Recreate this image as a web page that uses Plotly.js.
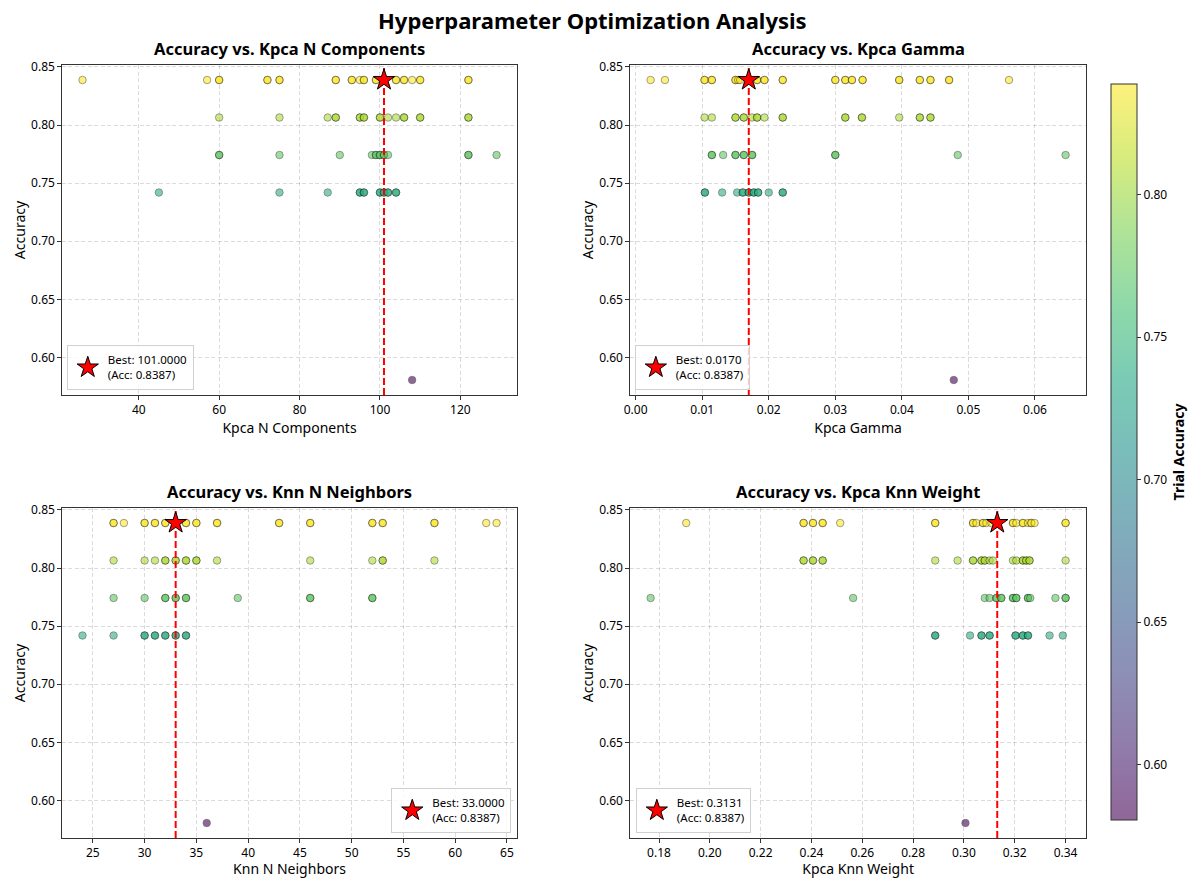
<!DOCTYPE html>
<html><head><meta charset="utf-8">
<script src="https://cdn.plot.ly/plotly-3.0.1.min.js"></script>
<style>html,body{margin:0;padding:0;background:#fff}#chart{width:1189px;height:878px}</style>
</head><body><div id="chart"></div>
<script>
// Accuracy levels (rows of points), top to bottom
const accuracyLevels = [26/31, 25/31, 24/31, 23/31, 18/31];

// x values of the trials at each accuracy level (duplicates = overlapping trials)
const kpcaNComponents = [
  [26,57,60,60,72,72,75,75,89,89,93,93,95,96,96,99,99,101,104,104,106,106,108,110,110,122,122],
  [60,75,87,89,89,95,95,96,96,100,100,102,104,106,106,110,110,122,122],
  [60,60,75,90,98,99,99,100,100,101,101,102,122,122,129],
  [45,75,87,95,95,96,96,100,100,101,101,102,102,104,104],
  [108]
];
const kpcaGamma = [
  [0.00225,0.0044,0.01035,0.01035,0.01145,0.01145,0.0150,0.0150,0.0154,0.0157,0.0170,0.01825,0.01825,0.01935,0.01935,0.0221,0.0221,0.0300,0.0300,0.0315,0.0315,0.0325,0.0325,0.0341,0.0341,0.0396,0.0396,0.0427,0.0427,0.0443,0.0443,0.0471,0.0471,0.0561],
  [0.01035,0.01145,0.0150,0.0150,0.01625,0.01625,0.0175,0.01825,0.01825,0.01935,0.0221,0.0221,0.0315,0.0315,0.0340,0.0340,0.0396,0.0427,0.0427,0.0443,0.0443],
  [0.01145,0.01145,0.01315,0.0150,0.0150,0.01625,0.01625,0.0175,0.0175,0.0300,0.0300,0.0484,0.0646],
  [0.0104,0.0104,0.0130,0.01525,0.0161,0.0161,0.0170,0.0170,0.01775,0.01775,0.0184,0.0184,0.0200,0.0221,0.0221],
  [0.0478]
];
const knnNNeighbors = [
  [27,27,28,30,30,31,31,32,32,33,34,34,35,35,37,37,43,43,46,46,52,52,53,53,58,58,63,64],
  [27,30,31,32,32,33,33,34,34,35,35,37,46,52,53,53,58],
  [27,30,32,32,33,33,34,34,39,46,46,52,52],
  [24,27,30,30,31,31,32,32,33,33,34,34],
  [36]
];
const kpcaKnnWeight = [
  [0.1907,0.2369,0.2369,0.2406,0.2406,0.2444,0.2444,0.2513,0.2887,0.2887,0.3036,0.3036,0.3049,0.3075,0.3075,0.3088,0.3108,0.3131,0.3193,0.3193,0.3206,0.3232,0.3232,0.3252,0.3265,0.3265,0.3278,0.3400,0.3400],
  [0.2369,0.2369,0.2406,0.2406,0.2444,0.2444,0.2887,0.2975,0.3036,0.3036,0.3069,0.3069,0.3082,0.3082,0.3101,0.3114,0.3193,0.3206,0.3232,0.3232,0.3245,0.3245,0.3258,0.3258,0.3400],
  [0.1767,0.2564,0.3082,0.3101,0.3128,0.3128,0.3147,0.3147,0.3193,0.3193,0.3206,0.3206,0.3252,0.3252,0.3261,0.3360,0.3400,0.3400],
  [0.2887,0.2887,0.3024,0.3069,0.3069,0.3101,0.3101,0.3203,0.3203,0.3232,0.3232,0.3252,0.3252,0.3337,0.3389],
  [0.3006]
];

const bestAccuracy = 26/31;
const bestValues = [101, 0.0170, 33, 0.3131];
const paramNames = ['Kpca N Components', 'Kpca Gamma', 'Knn N Neighbors', 'Kpca Knn Weight'];
const colorbarTicks = [0.60, 0.65, 0.70, 0.75, 0.80];

const viridis = [[0,'#440154'],[0.1,'#482475'],[0.2,'#414487'],[0.3,'#355f8d'],[0.4,'#2a788e'],
  [0.5,'#21918c'],[0.6,'#22a884'],[0.7,'#44bf70'],[0.8,'#7ad151'],[0.9,'#bddf26'],[1,'#fde725']];
function blend(hex, a){
  const r=parseInt(hex.slice(1,3),16), g=parseInt(hex.slice(3,5),16), b=parseInt(hex.slice(5,7),16);
  const f=v=>Math.round(v*a+255*(1-a));
  return 'rgb('+f(r)+','+f(g)+','+f(b)+')';
}
const viridisFaded = viridis.map(([t,c])=>[t, blend(c,0.6)]);

const W=1189, H=878;
const FONT = '"Noto Sans", "Open Sans", sans-serif';
const pxX = (a,b)=>[a/W, b/W];
const pxY = (top,bot)=>[1-bot/H, 1-top/H];
const panels = [
  {data:kpcaNComponents, dx:pxX(62,519), dy:pxY(65,395), dtick:20, fmt:'', legend:{x:67/W, y:1-390/H, xanchor:'left'}},
  {data:kpcaGamma, dx:pxX(632,1090), dy:pxY(65,395), dtick:0.01, fmt:'.2f', legend:{x:637/W, y:1-390/H, xanchor:'left'}},
  {data:knnNNeighbors, dx:pxX(62,519), dy:pxY(508,838), dtick:5, fmt:'', legend:{x:513/W, y:1-833/H, xanchor:'right'}},
  {data:kpcaKnnWeight, dx:pxX(632,1090), dy:pxY(508,838), dtick:0.02, fmt:'.2f', legend:{x:638/W, y:1-833/H, xanchor:'left'}}
];

const allAcc = [];
accuracyLevels.forEach((a,i)=>{ kpcaNComponents[i].forEach(()=>allAcc.push(a)); });
const cmin = Math.min(...allAcc), cmax = Math.max(...allAcc);
const ySpan = cmax - cmin;
const yRange = [cmin - 0.05*ySpan, cmax + 0.05*ySpan];

const traces = [];
const layout = {
  width:W, height:H, margin:{l:0,r:0,t:0,b:0}, paper_bgcolor:'#fff', plot_bgcolor:'#fff',
  font:{family:FONT, size:12, color:'#000'},
  annotations:[{text:'<b>Hyperparameter Optimization Analysis</b>', xref:'paper', yref:'paper', x:0.5, y:1-20/H,
    xanchor:'center', yanchor:'middle', showarrow:false, font:{size:22, family:FONT}}]
};

panels.forEach((p,i)=>{
  const n = i+1, xa = 'x'+(n===1?'':n), ya = 'y'+(n===1?'':n);
  const xs=[], ys=[];
  p.data.forEach((row,r)=>row.forEach(v=>{xs.push(v); ys.push(accuracyLevels[r]);}));
  const xmin=Math.min(...xs), xmax=Math.max(...xs), sp=xmax-xmin;
  const xRange=[xmin-0.05*sp, xmax+0.05*sp];
  traces.push({type:'scatter', mode:'markers', x:xs, y:ys, xaxis:xa, yaxis:ya, showlegend:false, hoverinfo:'x+y',
    marker:{color:ys, colorscale:viridis, cmin:cmin, cmax:cmax, size:7.5, opacity:0.6, line:{color:'#000', width:0.6}}});
  traces.push({type:'scatter', mode:'lines', x:[bestValues[i],bestValues[i]], y:yRange, xaxis:xa, yaxis:ya,
    showlegend:false, hoverinfo:'skip', line:{color:'#ff0000', width:2, dash:'7px,3px'}});
  const lg = 'legend'+(n===1?'':n);
  traces.push({type:'scatter', mode:'markers', x:[bestValues[i]], y:[bestAccuracy], xaxis:xa, yaxis:ya,
    name:'Best: '+bestValues[i].toFixed(4)+'<br>(Acc: '+bestAccuracy.toFixed(4)+')', legend:lg, showlegend:true,
    marker:{symbol:'star', size:16, color:'#ff0000', line:{color:'#000', width:1}}});
  layout[lg] = {x:p.legend.x, y:p.legend.y, xanchor:p.legend.xanchor, yanchor:'bottom', xref:'paper', yref:'paper',
    bgcolor:'rgba(255,255,255,0.8)', bordercolor:'#d0d0d0', borderwidth:1, font:{size:11.5, family:FONT}, itemsizing:'trace'};
  const axCommon = {showline:true, mirror:true, linecolor:'#333', linewidth:1, ticks:'outside', ticklen:3.5, tickcolor:'#333',
    showgrid:true, gridcolor:'rgba(0,0,0,0.14)', griddash:'4px,2.5px', gridwidth:1, zeroline:false, tickfont:{size:12}};
  layout['xaxis'+(n===1?'':n)] = Object.assign({}, axCommon, {domain:p.dx, range:xRange, dtick:p.dtick, tickformat:p.fmt,
    anchor:ya, title:{text:paramNames[i], font:{size:14}, standoff:2}});
  layout['yaxis'+(n===1?'':n)] = Object.assign({}, axCommon, {domain:p.dy, range:yRange, dtick:0.05, tick0:0, tickformat:'.2f',
    anchor:xa, title:{text:'Accuracy', font:{size:14}, standoff:2}});
  layout.annotations.push({text:'<b>Accuracy vs. '+paramNames[i]+'</b>', xref:'paper', yref:'paper',
    x:(p.dx[0]+p.dx[1])/2, y:p.dy[1], yshift:3, xanchor:'center', yanchor:'bottom', showarrow:false, font:{size:16.5, family:FONT}});
});

// colorbar carrier
traces.push({type:'scatter', mode:'markers', x:[null], y:[null], xaxis:'x', yaxis:'y', showlegend:false, hoverinfo:'skip',
  marker:{color:[cmin,cmax], colorscale:viridisFaded, cmin:cmin, cmax:cmax, showscale:true, size:1,
    colorbar:{x:1115/W, xanchor:'left', y:1-452/H, yanchor:'middle', len:736, lenmode:'pixels', thickness:26, thicknessmode:'pixels',
      outlinecolor:'#333', outlinewidth:1, ticks:'outside', ticklen:4, tickcolor:'#333', tickvals:colorbarTicks, tickformat:'.2f',
      tickfont:{size:12}, xpad:0, ypad:0,
      title:{text:'<b>Trial Accuracy</b>', side:'right', font:{size:14}}}}});

Plotly.newPlot('chart', traces, layout, {displayModeBar:false, staticPlot:true});
</script></body></html>
